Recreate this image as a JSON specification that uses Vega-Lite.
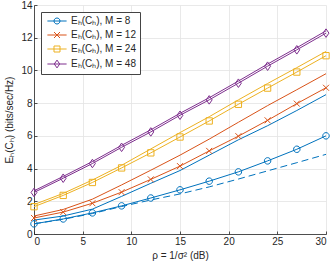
{
  "$schema": "https://vega.github.io/schema/vega-lite/v6.json",
  "width": 292,
  "height": 229,
  "autosize": {"type": "none"},
  "padding": {"left": 34, "top": 5, "right": 6, "bottom": 33},
  "background": "white",
  "config": {
    "view": {"stroke": null},
    "font": "Liberation Sans",
    "axis": {
      "domainColor": "#262626",
      "tickColor": "#262626",
      "labelColor": "#262626",
      "titleColor": "#262626",
      "gridColor": "#e3e3e3",
      "gridWidth": 0.8,
      "domainWidth": 0.8,
      "tickWidth": 0.8,
      "labelFont": "Liberation Sans",
      "titleFont": "Liberation Sans",
      "labelFontSize": 10,
      "titleFontSize": 10,
      "titleFontWeight": "normal",
      "tickSize": -3
    },
    "legend": {
      "labelFont": "Liberation Sans",
      "labelFontSize": 10,
      "labelColor": "#262626"
    }
  },
  "datasets": {
    "curves": [
      {"rho": 0, "value": 0.62, "series": "8", "curve": "sim"},
      {"rho": 3, "value": 0.92, "series": "8", "curve": "sim"},
      {"rho": 6, "value": 1.29, "series": "8", "curve": "sim"},
      {"rho": 9, "value": 1.72, "series": "8", "curve": "sim"},
      {"rho": 12, "value": 2.2, "series": "8", "curve": "sim"},
      {"rho": 15, "value": 2.7, "series": "8", "curve": "sim"},
      {"rho": 18, "value": 3.23, "series": "8", "curve": "sim"},
      {"rho": 21, "value": 3.8, "series": "8", "curve": "sim"},
      {"rho": 24, "value": 4.47, "series": "8", "curve": "sim"},
      {"rho": 27, "value": 5.18, "series": "8", "curve": "sim"},
      {"rho": 30, "value": 6.0, "series": "8", "curve": "sim"},
      {"rho": 0, "value": 0.98, "series": "12", "curve": "sim"},
      {"rho": 3, "value": 1.34, "series": "12", "curve": "sim"},
      {"rho": 6, "value": 1.88, "series": "12", "curve": "sim"},
      {"rho": 9, "value": 2.56, "series": "12", "curve": "sim"},
      {"rho": 12, "value": 3.34, "series": "12", "curve": "sim"},
      {"rho": 15, "value": 4.15, "series": "12", "curve": "sim"},
      {"rho": 18, "value": 5.08, "series": "12", "curve": "sim"},
      {"rho": 21, "value": 5.98, "series": "12", "curve": "sim"},
      {"rho": 24, "value": 6.95, "series": "12", "curve": "sim"},
      {"rho": 27, "value": 7.97, "series": "12", "curve": "sim"},
      {"rho": 30, "value": 8.94, "series": "12", "curve": "sim"},
      {"rho": 0, "value": 1.67, "series": "24", "curve": "sim"},
      {"rho": 3, "value": 2.36, "series": "24", "curve": "sim"},
      {"rho": 6, "value": 3.15, "series": "24", "curve": "sim"},
      {"rho": 9, "value": 4.04, "series": "24", "curve": "sim"},
      {"rho": 12, "value": 4.96, "series": "24", "curve": "sim"},
      {"rho": 15, "value": 5.93, "series": "24", "curve": "sim"},
      {"rho": 18, "value": 6.91, "series": "24", "curve": "sim"},
      {"rho": 21, "value": 7.93, "series": "24", "curve": "sim"},
      {"rho": 24, "value": 8.92, "series": "24", "curve": "sim"},
      {"rho": 27, "value": 9.9, "series": "24", "curve": "sim"},
      {"rho": 30, "value": 10.9, "series": "24", "curve": "sim"},
      {"rho": 0, "value": 2.54, "series": "48", "curve": "sim"},
      {"rho": 3, "value": 3.41, "series": "48", "curve": "sim"},
      {"rho": 6, "value": 4.31, "series": "48", "curve": "sim"},
      {"rho": 9, "value": 5.3, "series": "48", "curve": "sim"},
      {"rho": 12, "value": 6.24, "series": "48", "curve": "sim"},
      {"rho": 15, "value": 7.26, "series": "48", "curve": "sim"},
      {"rho": 18, "value": 8.2, "series": "48", "curve": "sim"},
      {"rho": 21, "value": 9.22, "series": "48", "curve": "sim"},
      {"rho": 24, "value": 10.26, "series": "48", "curve": "sim"},
      {"rho": 27, "value": 11.26, "series": "48", "curve": "sim"},
      {"rho": 30, "value": 12.28, "series": "48", "curve": "sim"},
      {"rho": 0, "value": 0.85, "series": "8", "curve": "bound"},
      {"rho": 3, "value": 1.1, "series": "8", "curve": "bound"},
      {"rho": 6, "value": 1.52, "series": "8", "curve": "bound"},
      {"rho": 9, "value": 2.3, "series": "8", "curve": "bound"},
      {"rho": 12, "value": 3.1, "series": "8", "curve": "bound"},
      {"rho": 15, "value": 3.88, "series": "8", "curve": "bound"},
      {"rho": 18, "value": 4.82, "series": "8", "curve": "bound"},
      {"rho": 21, "value": 5.76, "series": "8", "curve": "bound"},
      {"rho": 24, "value": 6.62, "series": "8", "curve": "bound"},
      {"rho": 27, "value": 7.55, "series": "8", "curve": "bound"},
      {"rho": 30, "value": 8.52, "series": "8", "curve": "bound"},
      {"rho": 0, "value": 1.1, "series": "12", "curve": "bound"},
      {"rho": 3, "value": 1.5, "series": "12", "curve": "bound"},
      {"rho": 6, "value": 2.13, "series": "12", "curve": "bound"},
      {"rho": 9, "value": 3.0, "series": "12", "curve": "bound"},
      {"rho": 12, "value": 3.9, "series": "12", "curve": "bound"},
      {"rho": 15, "value": 4.82, "series": "12", "curve": "bound"},
      {"rho": 18, "value": 5.8, "series": "12", "curve": "bound"},
      {"rho": 21, "value": 6.83, "series": "12", "curve": "bound"},
      {"rho": 24, "value": 7.85, "series": "12", "curve": "bound"},
      {"rho": 27, "value": 8.82, "series": "12", "curve": "bound"},
      {"rho": 30, "value": 9.8, "series": "12", "curve": "bound"},
      {"rho": 0, "value": 1.8, "series": "24", "curve": "bound"},
      {"rho": 3, "value": 2.48, "series": "24", "curve": "bound"},
      {"rho": 6, "value": 3.3, "series": "24", "curve": "bound"},
      {"rho": 9, "value": 4.2, "series": "24", "curve": "bound"},
      {"rho": 12, "value": 5.2, "series": "24", "curve": "bound"},
      {"rho": 15, "value": 6.2, "series": "24", "curve": "bound"},
      {"rho": 18, "value": 7.17, "series": "24", "curve": "bound"},
      {"rho": 21, "value": 8.2, "series": "24", "curve": "bound"},
      {"rho": 24, "value": 9.2, "series": "24", "curve": "bound"},
      {"rho": 27, "value": 10.17, "series": "24", "curve": "bound"},
      {"rho": 30, "value": 11.16, "series": "24", "curve": "bound"},
      {"rho": 0, "value": 2.64, "series": "48", "curve": "bound"},
      {"rho": 3, "value": 3.52, "series": "48", "curve": "bound"},
      {"rho": 6, "value": 4.43, "series": "48", "curve": "bound"},
      {"rho": 9, "value": 5.42, "series": "48", "curve": "bound"},
      {"rho": 12, "value": 6.37, "series": "48", "curve": "bound"},
      {"rho": 15, "value": 7.38, "series": "48", "curve": "bound"},
      {"rho": 18, "value": 8.33, "series": "48", "curve": "bound"},
      {"rho": 21, "value": 9.35, "series": "48", "curve": "bound"},
      {"rho": 24, "value": 10.39, "series": "48", "curve": "bound"},
      {"rho": 27, "value": 11.39, "series": "48", "curve": "bound"},
      {"rho": 30, "value": 12.42, "series": "48", "curve": "bound"},
      {"rho": 0, "value": 0.62, "series": "8", "curve": "lower"},
      {"rho": 3, "value": 0.9, "series": "8", "curve": "lower"},
      {"rho": 6, "value": 1.25, "series": "8", "curve": "lower"},
      {"rho": 9, "value": 1.68, "series": "8", "curve": "lower"},
      {"rho": 12, "value": 2.08, "series": "8", "curve": "lower"},
      {"rho": 15, "value": 2.45, "series": "8", "curve": "lower"},
      {"rho": 18, "value": 2.88, "series": "8", "curve": "lower"},
      {"rho": 21, "value": 3.36, "series": "8", "curve": "lower"},
      {"rho": 24, "value": 3.86, "series": "8", "curve": "lower"},
      {"rho": 27, "value": 4.36, "series": "8", "curve": "lower"},
      {"rho": 30, "value": 4.87, "series": "8", "curve": "lower"}
    ]
  },
  "data": {"name": "curves"},
  "encoding": {
    "x": {
      "field": "rho", "type": "quantitative",
      "scale": {"domain": [0, 30], "nice": false},
      "axis": {"values": [0, 5, 10, 15, 20, 25, 30], "title": "ρ = 1/σ² (dB)", "labelPadding": 5, "titlePadding": 4}
    },
    "y": {
      "field": "value", "type": "quantitative",
      "scale": {"domain": [0, 14], "nice": false},
      "axis": {"values": [0, 2, 4, 6, 8, 10, 12, 14], "title": "Eₕ(Cₕ) (bits/sec/Hz)", "labelPadding": 5, "titlePadding": 6}
    }
  },
  "layer": [
    {
      "transform": [{"filter": "datum.curve == 'sim'"}],
      "mark": {"type": "point", "filled": false, "opacity": 0, "strokeWidth": 1},
      "encoding": {
        "color": {
          "field": "series", "type": "nominal",
          "scale": {"domain": ["8", "12", "24", "48"], "range": ["#0072BD", "#D95319", "#EDB120", "#7E2F8E"]},
          "legend": {
            "title": null,
            "orient": "top-left",
            "offset": 7,
            "padding": 4,
            "rowPadding": 4,
            "fillColor": "white",
            "strokeColor": "#444444",
            "symbolSize": 36,
            "symbolStrokeWidth": 1,
            "symbolOpacity": 1,
            "symbolOffset": 7,
            "labelOffset": 9,
            "labelExpr": "'Eₕ(Cₕ), M = ' + datum.label"
          }
        },
        "shape": {
          "field": "series", "type": "nominal",
          "scale": {
            "domain": ["8", "12", "24", "48"],
            "range": [
              "M-3.2,0L3.2,0M-1,0A1,1,0,1,1,1,0A1,1,0,1,1,-1,0Z",
              "M-3.2,0L3.2,0M-1,-1L1,1M-1,1L1,-1",
              "M-3.2,0L3.2,0M-1,-1L1,-1L1,1L-1,1Z",
              "M-3.2,0L3.2,0M0,-1.3L0.9,0L0,1.3L-0.9,0Z"
            ]
          },
          "legend": {
            "title": null,
            "orient": "top-left",
            "offset": 7,
            "padding": 4,
            "rowPadding": 4,
            "fillColor": "white",
            "strokeColor": "#444444",
            "symbolSize": 36,
            "symbolStrokeWidth": 1,
            "symbolOpacity": 1,
            "symbolOffset": 7,
            "labelOffset": 9,
            "labelExpr": "'Eₕ(Cₕ), M = ' + datum.label"
          }
        }
      }
    },
    {
      "transform": [{"filter": "datum.curve == 'bound'"}],
      "mark": {"type": "line", "strokeWidth": 1},
      "encoding": {
        "color": {"field": "series", "type": "nominal"}
      }
    },
    {
      "transform": [{"filter": "datum.curve == 'lower'"}],
      "mark": {"type": "line", "strokeWidth": 1, "color": "#0072BD", "strokeDash": [7, 4]},
      "encoding": {}
    },
    {
      "transform": [{"filter": "datum.curve == 'sim'"}],
      "mark": {"type": "line", "strokeWidth": 1},
      "encoding": {
        "color": {"field": "series", "type": "nominal"}
      }
    },
    {
      "transform": [{"filter": "datum.curve == 'sim' && datum.series == '8'"}],
      "mark": {"type": "point", "filled": false, "color": "#0072BD", "strokeWidth": 1, "size": 42, "opacity": 1, "shape": "M-1,0A1,1,0,1,1,1,0A1,1,0,1,1,-1,0Z"}
    },
    {
      "transform": [{"filter": "datum.curve == 'sim' && datum.series == '12'"}],
      "mark": {"type": "point", "filled": false, "color": "#D95319", "strokeWidth": 1, "size": 36, "opacity": 1, "shape": "M-1,-1L1,1M-1,1L1,-1"}
    },
    {
      "transform": [{"filter": "datum.curve == 'sim' && datum.series == '24'"}],
      "mark": {"type": "point", "filled": false, "color": "#EDB120", "strokeWidth": 1, "size": 40, "opacity": 1, "shape": "M-1,-1L1,-1L1,1L-1,1Z"}
    },
    {
      "transform": [{"filter": "datum.curve == 'sim' && datum.series == '48'"}],
      "mark": {"type": "point", "filled": false, "color": "#7E2F8E", "strokeWidth": 1, "size": 43, "opacity": 1, "shape": "M0,-1.3L0.9,0L0,1.3L-0.9,0Z"}
    }
  ]
}
